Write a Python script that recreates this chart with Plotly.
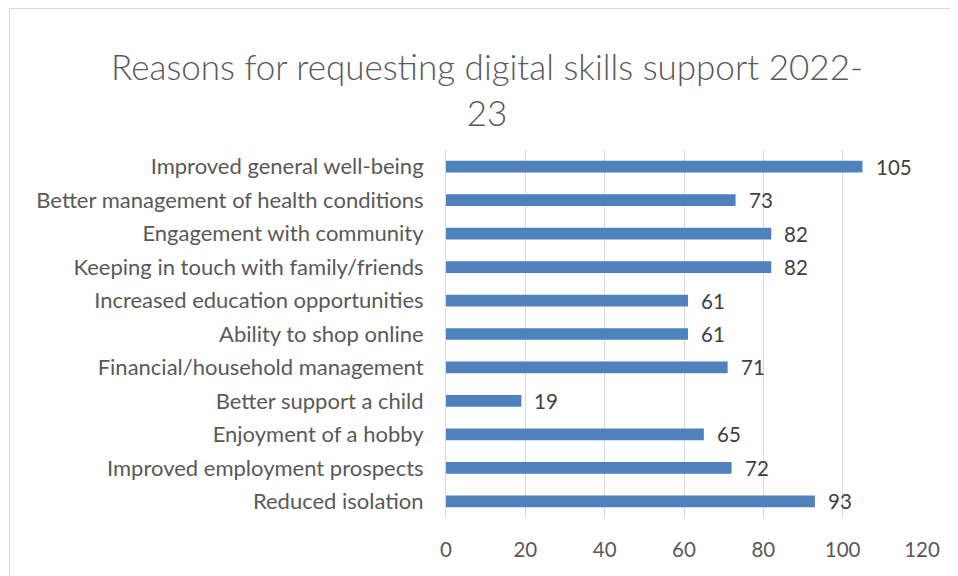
import plotly.graph_objects as go

categories = [
    "Improved general well-being",
    "Better management of health conditions",
    "Engagement with community",
    "Keeping in touch with family/friends",
    "Increased education opportunities",
    "Ability to shop online",
    "Financial/household management",
    "Better support a child",
    "Enjoyment of a hobby",
    "Improved employment prospects",
    "Reduced isolation",
]
values = [105, 73, 82, 82, 61, 61, 71, 19, 65, 72, 93]
tick_vals = [0, 20, 40, 60, 80, 100, 120]

bar_color = "#4F81BD"
font_family = "Lato, 'Open Sans', sans-serif"

# page body has an 8px default margin; figure coordinates compensate for it
L, R, T, B = 438, 44, 142, 66
PW = 958 - L - R
PH = 576 - T - B

fig = go.Figure()
fig.add_trace(go.Bar(
    x=values,
    y=categories,
    orientation="h",
    marker=dict(color=bar_color, line=dict(width=0)),
    width=0.35,
    hoverinfo="x+y",
))

for c, v in zip(categories, values):
    fig.add_annotation(
        x=v, y=c, text=str(v), showarrow=False,
        xanchor="left", xshift=11,
        font=dict(family=font_family, size=20.5, color="#404040"),
    )

border = dict(color="#D9D9D9", width=1)
fig.update_layout(
    width=958, height=576,
    margin=dict(l=L, r=R, t=T, b=B),
    paper_bgcolor="white",
    plot_bgcolor="white",
    showlegend=False,
    title=dict(
        text="Reasons for requesting digital skills support 2022-<br>23",
        x=(487 - 8) / 958, xanchor="center",
        yref="container", y=1 - 72 / 576, yanchor="middle",
        font=dict(family=font_family, size=35, color="#595959", weight=300),
    ),
    font=dict(family=font_family, color="#595959"),
    xaxis=dict(
        range=[0, 120],
        tickvals=tick_vals,
        showgrid=True, gridcolor="#D9D9D9", gridwidth=1,
        zeroline=False, showline=False,
        ticks="",
        tickfont=dict(size=20.5, color="#595959"),
        ticklabelstandoff=17,
        automargin=False,
        fixedrange=True,
    ),
    yaxis=dict(
        autorange="reversed",
        showgrid=False, zeroline=False,
        showline=True, linecolor="#D9D9D9", linewidth=1,
        ticks="",
        tickfont=dict(size=22, color="#595959"),
        ticklabelstandoff=17,
        automargin=False,
        fixedrange=True,
    ),
    shapes=[
        dict(type="line", xref="paper", yref="paper",
             x0=(1.5 - L) / PW, x1=(1.5 - L) / PW,
             y0=-(B + 20) / PH, y1=1 + (T - 0.5) / PH,
             line=border, layer="below"),
        dict(type="line", xref="paper", yref="paper",
             x0=(1.5 - L) / PW, x1=1 + (R + 40) / PW,
             y0=1 + (T - 0.5) / PH, y1=1 + (T - 0.5) / PH,
             line=border, layer="below"),
    ],
)

fig.write_html("out.html")
